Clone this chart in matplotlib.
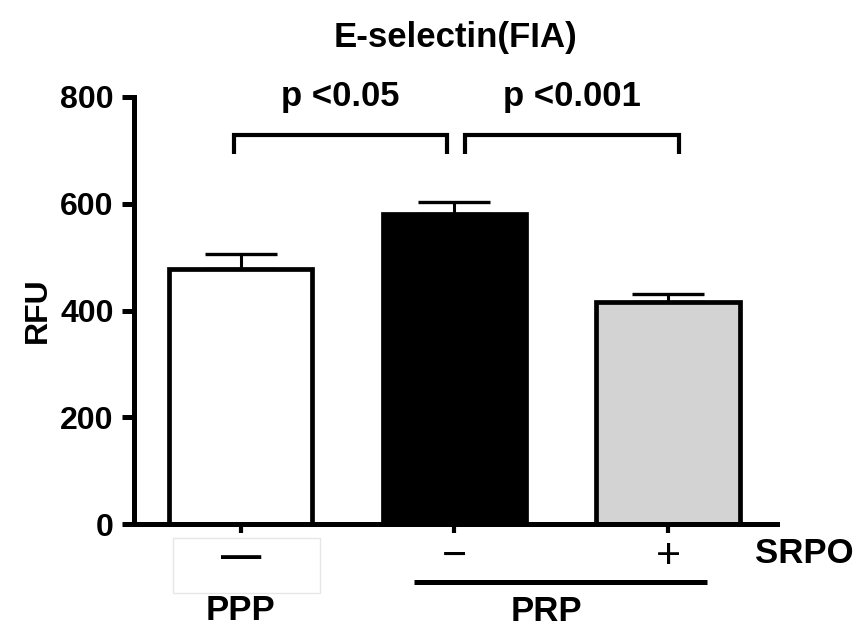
import numpy as np
import matplotlib
matplotlib.use("Agg")
import matplotlib.pyplot as plt
from matplotlib.patches import Rectangle
import matplotlib.transforms as mtransforms

plt.rcParams['font.family'] = ['Liberation Sans', 'DejaVu Sans']
plt.rcParams['font.weight'] = 'bold'

# datos
groups = ["PPP", "PRP", "PRP"]
srpo = ["\u2014", "\u2212", "+"]
rfu = [478, 581, 416]
rfu_err = [27, 23, 14]
colors = ["white", "black", "#d3d3d3"]
yticks = [0, 200, 400, 600, 800]
pvals = ["p <0.05", "p <0.001"]
brackets = [(-0.03, 0.965), (1.05, 2.05)]

fig = plt.figure(figsize=(8.64, 6.28), dpi=100)
ax = fig.add_axes([134 / 864, 1 - 524 / 628, 643 / 864, 427 / 628])

x = np.arange(len(rfu))
ax.errorbar(x, rfu, yerr=[np.zeros(len(rfu)), rfu_err], fmt="none",
            ecolor="black", elinewidth=2.2, capsize=26, capthick=2.4, zorder=1)
ax.bar(x, rfu, width=0.67, color=colors, edgecolor="black", linewidth=3.4, zorder=2)

ax.set_xlim(-0.5, 2.51)
ax.set_ylim(0, 800)
ax.set_yticks(yticks)
ax.set_xticks(x)
ax.set_xticklabels([])
for s in ["top", "right"]:
    ax.spines[s].set_visible(False)
for s in ["left", "bottom"]:
    ax.spines[s].set_linewidth(3.6)
ax.tick_params(axis="y", length=8.5, width=3.6, pad=6, labelsize=23)
ax.tick_params(axis="x", length=6.5, width=3.0)

# brackets y valores p
for (x0, x1), txt in zip(brackets, pvals):
    ax.plot([x0, x0, x1, x1], [693, 728, 728, 693], color="black", lw=3.0,
            clip_on=False, solid_capstyle="butt", solid_joinstyle="miter")
    ax.text((x0 + x1) / 2, 801, txt, ha="center", va="center", fontsize=25,
            fontweight="bold", clip_on=False)

trans = mtransforms.blended_transform_factory(ax.transData, ax.transAxes)
ax.text(0, -0.077, srpo[0], transform=trans, ha="center", va="center",
        fontsize=29, fontweight="bold")
for xi, s in zip(x[1:], srpo[1:]):
    ax.text(xi, -0.077, s, transform=trans, ha="center", va="center",
            fontsize=31, fontweight="normal")
ax.text(2.64, -0.068, "SRPO", transform=trans, ha="center", va="center",
        fontsize=25, fontweight="bold")
ax.add_patch(Rectangle((-0.318, -0.162), 0.688, 0.129, transform=trans,
                       facecolor="none", edgecolor="#e6e6e6", lw=1, clip_on=False))
ax.plot([0.81, 2.18], [-0.136, -0.136], transform=trans, color="black",
        lw=3.6, clip_on=False, solid_capstyle="butt")
ax.text(0, -0.203, "PPP", transform=trans, ha="center", va="center",
        fontsize=25, fontweight="bold")
ax.text(1.43, -0.206, "PRP", transform=trans, ha="center", va="center",
        fontsize=25, fontweight="bold")

fig.text(38 / 864, 1 - 310 / 628, "RFU", rotation=90, ha="center", va="center",
         fontsize=23, fontweight="bold")
fig.text(455 / 864, 1 - 38 / 628, "E-selectin(FIA)", ha="center", va="center",
         fontsize=25, fontweight="bold")

fig.savefig("out.png", dpi=100)
